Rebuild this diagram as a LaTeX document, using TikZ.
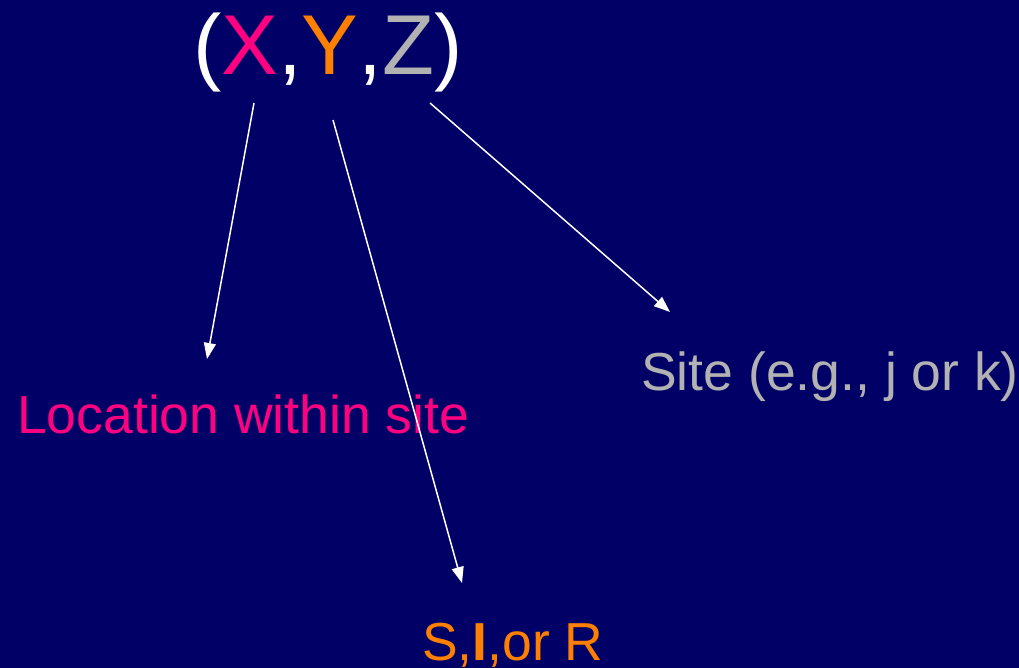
\documentclass[tikz,border=0pt]{standalone}
\usepackage{fontspec}
\setmainfont{Liberation Sans}
\usetikzlibrary{arrows.meta}
\definecolor{navy}{HTML}{000066}
\definecolor{pinkx}{HTML}{FF0080}
\definecolor{orangey}{HTML}{FF8000}
\definecolor{grayz}{HTML}{B2B2B2}
\begin{document}
\begin{tikzpicture}[x=1pt,y=-1pt,
    pointer/.style={draw=white,line width=1.5pt,-{Triangle[length=16pt,width=12pt]}}]
    \tikzstyle{every node}+=[inner sep=0pt,anchor=base west]
    \fill [navy] (0,0) rectangle (1019,668);
    \useasboundingbox (0,0) rectangle (1019,668);
    \node (title) at (193,75) {\fontsize{85}{90}\selectfont\color{white}(\textcolor{pinkx}{X},\textcolor{orangey}{Y},\textcolor{grayz}{Z})};
    \node (loc) at (17,433) {\fontsize{53.5}{60}\selectfont\color{pinkx}Location within site};
    \node (site) at (641,390) {\fontsize{53.5}{60}\selectfont\color{grayz}Site (e.g., j or k)};
    \node (sir) at (422,660) {\fontsize{53.5}{60}\selectfont\color{orangey}S,\textbf{I},or R};
    \coordinate (xfoot) at (254,103);
    \coordinate (yfoot) at (333,120);
    \coordinate (zfoot) at (430,103);
    \coordinate (loctop) at (207,359);
    \coordinate (sirtop) at (462,583);
    \coordinate (sitetop) at (670,312);
    \draw [pointer] (xfoot) -- (loctop);
    \draw [pointer] (yfoot) -- (sirtop);
    \draw [pointer] (zfoot) -- (sitetop);
\end{tikzpicture}
\end{document}
